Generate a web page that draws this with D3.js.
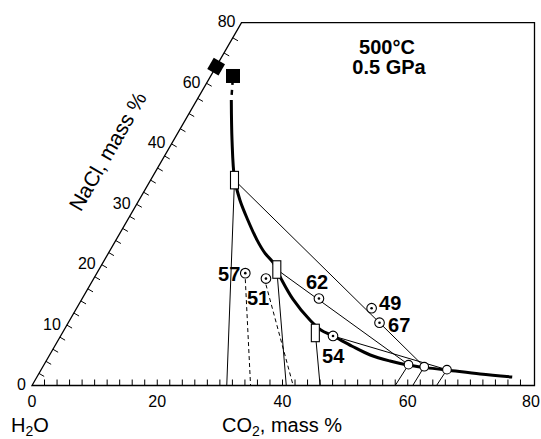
<!DOCTYPE html>
<html>
<head>
<meta charset="utf-8">
<script src="https://cdn.jsdelivr.net/npm/d3@7"></script>
<style>
  body { margin: 0; background: #fff; }
  svg { font-family: Arial, "Liberation Sans", Helvetica, sans-serif; }
</style>
</head>
<body>
<svg id="chart"></svg>
<script>
// phase boundary (liquid) in CO2 / NaCl mass %
const curveCO2 = [5.5, 9.3, 13.2, 16.1, 19.2, 22.5, 25.0, 27.1, 29.8, 33.7, 38.4, 41.0, 43.5, 47.5, 51.2, 54.9, 58.1, 60.9, 64.8, 70.5, 75.9];
const curveNaCl = [54.5, 41.3, 34.35, 30.7, 27.4, 24.1, 21.9, 20.4, 17.8, 14.3, 10.8, 9.2, 8.2, 6.5, 5.05, 4.06, 3.4, 3.0, 2.57, 1.9, 1.4];

// numbered inclusions (circle with dot)
const sampleIds = ['57', '51', '62', '49', '67', '54'];
const sampleCO2 = [23.7, 27.5, 37.8, 47.1, 49.7, 43.5];
const sampleNaCl = [18.6, 17.7, 14.4, 12.8, 10.4, 8.2];
const sampleFootCO2 = [34.9, 41.7, null, null, null, null];

// brine compositions (open rectangles)
const brineCO2 = [13.4, 28.4, 40.4];
const brineNaCl = [34.0, 19.2, 8.7];
const brineFootCO2 = [31.1, 40.6, 46.0];

// fluid compositions (open circles)
const fluidCO2 = [58.2, 60.9, 64.8];
const fluidNaCl = [3.45, 3.11, 2.62];
const fluidFootCO2 = [58.0, 60.8, 64.6];

// tie lines: [from, to]
const tieLines = [
  [[13.4, 34.0], [60.9, 3.11]],
  [[28.4, 19.2], [58.2, 3.45]],
  [[43.5, 8.2], [64.8, 2.62]],
];

// halite saturation
const haliteBinary = [0, 65.5];
const haliteTernary = [3.56, 62.4];

const co2Ticks = [0, 20, 40, 60, 80];
const naclTicks = [0, 10, 20, 30, 40, 60, 80];

const W = 541, H = 439;
const Y0 = 385.5;
const SIN = Math.sin(Math.PI / 3), COS = 0.5;

const xS = d3.scaleLinear().domain([0, 80]).range([32, 533]);
// NaCl axis is expanded below 40 %
const nS = d3.scaleLinear().domain([0, 40, 80]).range([0, 279, 419]);

function P(c, n) {
  const L = nS(n);
  return [xS(c) + L * COS, Y0 - L * SIN];
}

const svg = d3.select('#chart').attr('width', W).attr('height', H);

// frame
const apex = P(0, 80);
const xRight = 534.5;
svg.append('path')
    .attr('d', `M${P(0, 0)}L${apex}L${xRight},${apex[1]}L${xRight},${Y0}L${P(0, 0)}Z`)
    .attr('fill', 'none')
    .attr('stroke', '#000')
    .attr('stroke-width', 1.3);

// bottom ticks
const bTicks = d3.range(2, 80, 2);
svg.append('g').selectAll('line')
    .data(bTicks)
  .enter().append('line')
    .attr('x1', (d) => xS(d)).attr('x2', (d) => xS(d))
    .attr('y1', Y0).attr('y2', Y0 - 6)
    .attr('stroke', '#000').attr('stroke-width', 1);

svg.append('g').selectAll('text')
    .data(co2Ticks)
  .enter().append('text')
    .attr('x', (d) => xS(d) - (d === 80 ? 2 : 0))
    .attr('y', 407)
    .attr('text-anchor', 'middle')
    .attr('font-size', 16)
    .text((d) => d);

// slanted ticks
const sTicks = d3.range(2, 40, 2).concat(d3.range(40, 80, 5));
svg.append('g').selectAll('line')
    .data(sTicks)
  .enter().append('line')
    .each(function(d) {
      const p = P(0, d);
      d3.select(this)
          .attr('x1', p[0]).attr('y1', p[1])
          .attr('x2', p[0] + 6 * SIN).attr('y2', p[1] + 6 * COS);
    })
    .attr('stroke', '#000').attr('stroke-width', 1);

svg.append('g').selectAll('text')
    .data(naclTicks)
  .enter().append('text')
    .attr('x', (d) => P(0, d)[0] - 6)
    .attr('y', (d) => P(0, d)[1] + 4.5)
    .attr('text-anchor', 'end')
    .attr('font-size', 16)
    .text((d) => d);

// axis titles
svg.append('text')
    .attr('transform', 'translate(114,155) rotate(-60)')
    .attr('text-anchor', 'middle')
    .attr('font-size', 21)
    .text('NaCl, mass %');

const h2o = svg.append('text').attr('x', 11).attr('y', 432).attr('font-size', 20);
h2o.append('tspan').text('H');
h2o.append('tspan').attr('font-size', 14).attr('dy', 4).text('2');
h2o.append('tspan').attr('dy', -4).text('O');

const co2 = svg.append('text').attr('x', 222).attr('y', 432).attr('font-size', 20);
co2.append('tspan').text('CO');
co2.append('tspan').attr('font-size', 14).attr('dy', 4).text('2');
co2.append('tspan').attr('dy', -4).text(', mass %');

svg.append('text')
    .attr('x', 387).attr('y', 54)
    .attr('text-anchor', 'middle')
    .attr('font-size', 20).attr('font-weight', 'bold')
    .text('500°C');
svg.append('text')
    .attr('x', 389).attr('y', 74)
    .attr('text-anchor', 'middle')
    .attr('font-size', 20).attr('font-weight', 'bold')
    .text('0.5 GPa');

const line = d3.line();

// feet of rectangles and open circles (solid)
brineCO2.forEach((c, i) => {
  svg.append('path')
      .attr('d', line([P(c, brineNaCl[i]), P(brineFootCO2[i], 0)]))
      .attr('stroke', '#000').attr('stroke-width', 1).attr('fill', 'none');
});
fluidCO2.forEach((c, i) => {
  svg.append('path')
      .attr('d', line([P(c, fluidNaCl[i]), P(fluidFootCO2[i], 0)]))
      .attr('stroke', '#000').attr('stroke-width', 1).attr('fill', 'none');
});
// dashed feet of inclusions
sampleCO2.forEach((c, i) => {
  if (sampleFootCO2[i] == null) return;
  const a = P(c, sampleNaCl[i]);
  svg.append('path')
      .attr('d', line([[a[0], a[1] + 6], P(sampleFootCO2[i], 0)]))
      .attr('stroke', '#000').attr('stroke-width', 1)
      .attr('stroke-dasharray', '4,3').attr('fill', 'none');
});

// tie lines
tieLines.forEach((t) => {
  svg.append('path')
      .attr('d', line([P(t[0][0], t[0][1]), P(t[1][0], t[1][1])]))
      .attr('stroke', '#000').attr('stroke-width', 1).attr('fill', 'none');
});

// solvus curve
const curvePts = curveCO2.map((c, i) => P(c, curveNaCl[i]));
svg.append('path')
    .attr('d', d3.line().curve(d3.curveCatmullRom)(curvePts))
    .attr('stroke', '#000').attr('stroke-width', 3).attr('fill', 'none');

// dashed extension to halite point
const sq = P(haliteTernary[0], haliteTernary[1]);
svg.append('path')
    .attr('d', line([sq, curvePts[0]]))
    .attr('stroke', '#000').attr('stroke-width', 2.5)
    .attr('stroke-dasharray', '9,5,5,5').attr('fill', 'none');

svg.append('rect')
    .attr('x', sq[0] - 7).attr('y', sq[1] - 7)
    .attr('width', 14).attr('height', 14)
    .attr('fill', '#000');

const dm = P(haliteBinary[0], haliteBinary[1]);
svg.append('rect')
    .attr('x', -6.5).attr('y', -6.5)
    .attr('width', 13).attr('height', 13)
    .attr('transform', `translate(${dm[0]},${dm[1]}) rotate(-60)`)
    .attr('fill', '#000');

// rectangles
svg.append('g').selectAll('rect')
    .data(brineCO2)
  .enter().append('rect')
    .attr('x', (d, i) => P(d, brineNaCl[i])[0] - 4)
    .attr('y', (d, i) => P(d, brineNaCl[i])[1] - 8.75)
    .attr('width', 8).attr('height', 17.5)
    .attr('fill', '#fff').attr('stroke', '#000').attr('stroke-width', 1.1);

// open circles
svg.append('g').selectAll('circle')
    .data(fluidCO2)
  .enter().append('circle')
    .attr('cx', (d, i) => P(d, fluidNaCl[i])[0])
    .attr('cy', (d, i) => P(d, fluidNaCl[i])[1])
    .attr('r', 4.3)
    .attr('fill', '#fff').attr('stroke', '#000').attr('stroke-width', 1.1);

// inclusions
const labelOffset = {
  '57': [-5, 8, 'end'],
  '51': [-19, 26.5, 'start'],
  '62': [-13, -10, 'start'],
  '49': [7.5, 2, 'start'],
  '67': [8.5, 9.5, 'start'],
  '54': [-11, 27, 'start'],
};
const inc = svg.append('g').selectAll('g')
    .data(sampleIds)
  .enter().append('g')
    .attr('transform', (d, i) => `translate(${P(sampleCO2[i], sampleNaCl[i])})`);
inc.append('circle').attr('r', 4.8)
    .attr('fill', '#fff').attr('stroke', '#000').attr('stroke-width', 1.1);
inc.append('circle').attr('r', 1.3).attr('fill', '#000');
inc.append('text')
    .attr('x', (d) => labelOffset[d][0])
    .attr('y', (d) => labelOffset[d][1])
    .attr('text-anchor', (d) => labelOffset[d][2])
    .attr('font-size', 20).attr('font-weight', 'bold')
    .text((d) => d);
</script>
</body>
</html>
